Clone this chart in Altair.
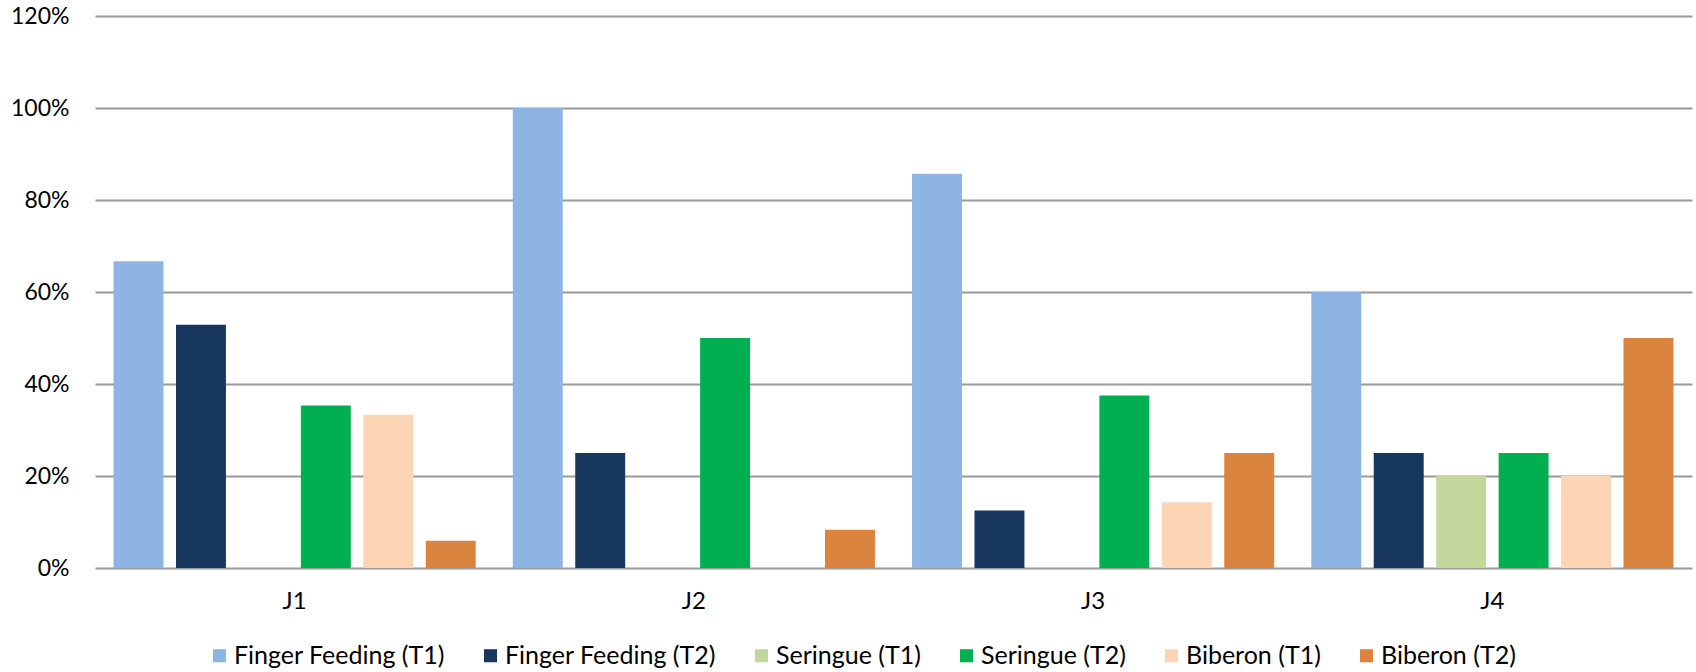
import altair as alt
import pandas as pd

# Feeding method success rate per day
days = ["J1", "J2", "J3", "J4"]
series = [
    "Finger Feeding (T1)",
    "Finger Feeding (T2)",
    "Seringue (T1)",
    "Seringue (T2)",
    "Biberon (T1)",
    "Biberon (T2)",
]
finger_t1 = [0.667, 1.00, 0.857, 0.60]
finger_t2 = [0.529, 0.25, 0.125, 0.25]
seringue_t1 = [0.0, 0.0, 0.0, 0.20]
seringue_t2 = [0.353, 0.50, 0.375, 0.25]
biberon_t1 = [0.333, 0.0, 0.143, 0.20]
biberon_t2 = [0.059, 0.083, 0.25, 0.50]
colors = ["#8eb4e3", "#17375e", "#c3d69b", "#00b050", "#fcd5b5", "#db8440"]
y_ticks = [0, 0.2, 0.4, 0.6, 0.8, 1.0, 1.2]

rows = []
for name, vals in zip(series, [finger_t1, finger_t2, seringue_t1, seringue_t2, biberon_t1, biberon_t2]):
    for d, v in zip(days, vals):
        rows.append({"jour": d, "serie": name, "valeur": v})
df = pd.DataFrame(rows)

font = "Lato"

chart = (
    alt.Chart(df)
    .mark_bar()
    .encode(
        x=alt.X(
            "jour:N",
            sort=days,
            title=None,
            scale=alt.Scale(paddingInner=0, paddingOuter=0),
            axis=alt.Axis(
                labelAngle=0,
                ticks=False,
                domain=False,
                grid=False,
                labelPadding=21,
                labelFontSize=24,
                labelFont=font,
                labelColor="#000000",
            ),
        ),
        xOffset=alt.XOffset(
            "serie:N",
            sort=series,
            scale=alt.Scale(paddingInner=0.2, paddingOuter=0.297),
        ),
        y=alt.Y(
            "valeur:Q",
            title=None,
            scale=alt.Scale(domain=[0, 1.2], nice=False),
            axis=alt.Axis(
                values=y_ticks,
                format=".0%",
                ticks=False,
                domain=False,
                grid=True,
                gridColor="#999999",
                gridWidth=1.8,
                labelPadding=26,
                labelFontSize=23,
                labelFont=font,
                labelColor="#000000",
            ),
        ),
        color=alt.Color(
            "serie:N",
            sort=series,
            scale=alt.Scale(domain=series, range=colors),
            legend=alt.Legend(
                title=None,
                orient="none",
                direction="horizontal",
                legendX=112,
                legendY=627,
                symbolType="square",
                symbolSize=170,
                symbolStrokeWidth=0,
                labelFontSize=25,
                labelFont=font,
                labelColor="#000000",
                labelOffset=2,
                columnPadding=33,
                labelLimit=400,
                padding=0,
            ),
        ),
    )
    .properties(
        width=1597,
        height=552,
        background="#ffffff",
        autosize=alt.AutoSizeParams(type="none"),
        padding={"left": 95, "top": 16, "right": 4, "bottom": 104},
    )
    .configure_view(stroke=None)
)

chart.save("out.html", embed_options={"renderer": "svg", "actions": False})
